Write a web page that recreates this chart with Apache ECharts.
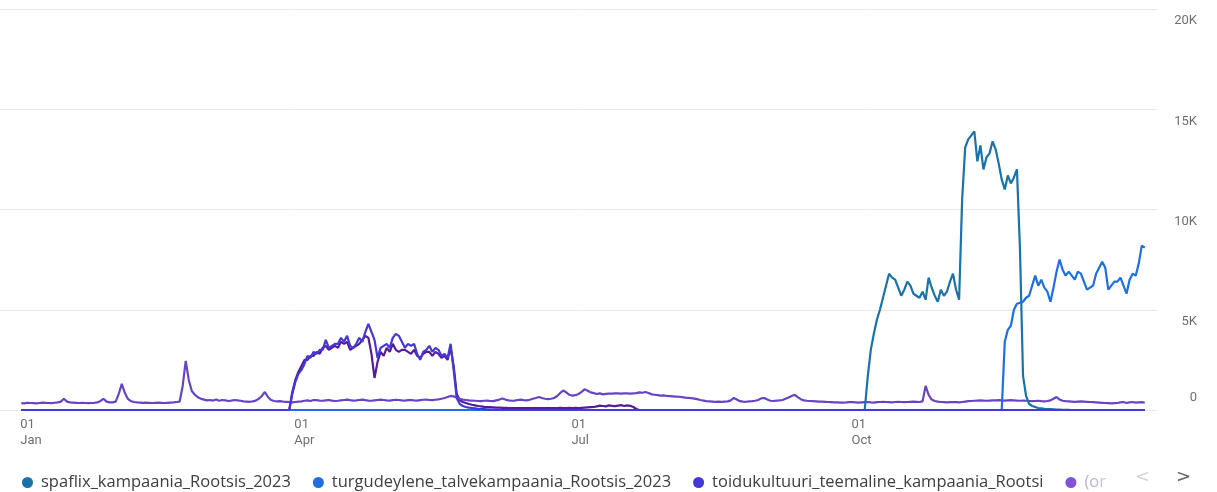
<!DOCTYPE html>
<html><head><meta charset="utf-8">
<script src="https://cdn.jsdelivr.net/npm/echarts@6/dist/echarts.min.js"></script>
<style>html,body{margin:0;padding:0;background:#fff}#c{width:1217px;height:492px}</style>
</head><body><div id="c"></div>
<script>
// ---- data ----
const START_DATE = '2023-01-01';
const DAY_COUNT = 370;
const QUARTER_TICKS = ['2023-01-01', '2023-04-01', '2023-07-01', '2023-10-01'];
const MONTHS = ['Jan','Feb','Mar','Apr','May','Jun','Jul','Aug','Sep','Oct','Nov','Dec'];
const Y_TICKS = [0, 5000, 10000, 15000, 20000];

const SERIES_NAMES = ['spaflix_kampaania_Rootsis_2023', 'turgudeylene_talvekampaania_Rootsis_2023',
  'toidukultuuri_teemaline_kampaania_Rootsi', '(organic)', '(direct)'];

// spaflix: active segment starting at day 277 (zero elsewhere)
const spaflixStart = 277;
const spaflixValues = [0,1660,3000,3800,4500,5000,5600,6200,6800,6600,
  6500,6100,5700,6000,6400,6200,5800,5700,5600,5900,
  5500,6600,6100,5700,5400,6000,5700,5900,6400,6800,
  6000,5500,10500,13100,13500,13700,13900,12400,13200,12000,
  12600,12800,13400,13000,12300,11500,11000,11700,11300,11600,
  12000,8000,1700,700,300,200,
  150,100,80,60,50,40,30,20,20,10,10,10,0];

// turgudeylene: active segment starting at day 322
const turgStart = 322;
const turgValues = [0,3400,4000,4200,5000,5300,5350,5400,5600,5700,
  6200,6700,6200,6500,6100,5900,5400,6100,6900,7500,
  7000,6700,6900,6700,6500,6900,6800,6400,6000,6100,
  6200,6800,7100,7400,7100,6000,6200,6400,6400,6600,
  6200,5800,6500,6800,6700,7300,8200,8100];

// toidukultuuri: active segment starting at day 88
const toiduStart = 88;
const toiduValues = [0,800,1400,1800,2000,2300,2700,2600,2900,2800,
  3000,3000,3500,3100,3200,3300,3300,3600,3400,3700,
  3200,3100,3300,3600,3400,3900,4300,3900,3500,2600,
  3100,3200,3300,3100,3600,3800,3700,3400,3100,3300,
  3200,3300,2800,2500,2900,3000,3200,2900,3100,3000,
  2700,2800,2600,3300,2000,600,300,200,
  150,120,100,80,60,50,40,30,20,20,10,10,0];

// (direct): active segment starting at day 88
const directStart = 88;
const directValues = [0,900,1500,1900,2200,2500,2500,2700,2700,2900,
  2800,3100,3200,3000,3100,3200,3100,3400,3300,3400,
  3000,3100,3200,3300,3500,3700,3600,2800,1600,2400,
  2900,2700,3100,2900,3300,3000,2900,3000,3000,2900,
  2800,3000,2700,2600,2800,2900,2900,2700,2900,2800,
  2600,2700,2500,3100,2200,800,500,400,
  350,300,260,230,200,180,160,150,140,130,
  120,120,110,110,100,100,100,90,90,90,
  90,100,90,90,100,90,90,100,90,100,
  100,110,100,100,110,100,110,100,110,120,
  130,140,150,180,220,200,180,230,210,190,
  220,240,200,230,210,150,50,0];

// (organic): full year, day 0..369
const organicValues = [
  340,330,360,350,340,330,350,370,360,350,
  340,360,380,420,560,420,380,370,360,350,
  360,350,340,350,360,380,450,560,420,380,
  380,420,800,1300,850,560,440,400,380,370,
  360,370,360,350,360,370,360,350,360,370,
  380,400,420,1200,2450,1500,950,760,640,560,
  520,480,500,470,520,460,500,480,450,470,
  500,480,460,430,420,410,430,470,560,700,
  900,650,500,450,430,440,420,410,400,380,
  400,420,430,460,480,450,500,490,470,460,
  480,500,470,450,460,480,500,520,490,470,
  480,500,520,490,470,460,480,500,520,500,
  480,470,490,510,500,480,470,490,500,480,
  470,490,510,520,500,490,510,530,560,600,
  650,700,680,620,560,520,500,480,470,460,
  450,440,460,470,450,440,480,520,570,520,
  480,460,470,500,520,490,480,510,560,600,
  650,600,560,540,560,600,700,850,970,880,
  760,720,740,800,900,1030,960,880,840,800,
  830,780,800,820,820,830,830,820,830,830,
  820,830,840,880,860,900,850,780,760,740,
  720,730,700,690,680,670,660,640,620,600,
  590,570,540,500,470,440,430,420,410,420,
  410,420,430,480,600,520,440,420,410,430,
  440,460,500,580,600,520,460,450,470,480,
  500,560,620,700,760,640,540,480,460,450,
  440,430,420,420,410,400,390,380,380,370,
  370,380,400,390,380,370,380,390,400,380,
  370,390,400,410,400,390,380,400,410,400,
  390,400,410,420,410,400,430,1200,750,520,
  450,420,400,390,380,390,400,390,380,400,
  420,440,450,460,470,480,470,460,470,480,
  480,490,480,470,480,490,480,470,460,470,
  460,450,440,450,460,440,430,450,480,560,
  650,520,460,440,430,420,410,420,430,420,
  410,400,390,380,370,360,350,340,330,340,
  350,380,400,350,380,400,370,380,390,360];

// ---- build ----
const PAD_BEFORE = 7, PAD_AFTER = 4;
const dates = [];
const t0 = Date.parse(START_DATE + 'T00:00:00Z');
for (let i = 0; i < DAY_COUNT; i++) dates.push(new Date(t0 + i * 86400000).toISOString().slice(0, 10));
const cats = [];
for (let i = 0; i < PAD_BEFORE; i++) cats.push('pre' + i);
dates.forEach(d => cats.push(d));
for (let i = 0; i < PAD_AFTER; i++) cats.push('post' + i);

function fromSegment(start, vals) {
  const arr = new Array(DAY_COUNT).fill(0);
  vals.forEach((v, i) => { if (start + i < DAY_COUNT) arr[start + i] = v; });
  return arr;
}
function padded(arr) {
  return new Array(PAD_BEFORE).fill(null).concat(arr, new Array(PAD_AFTER).fill(null));
}
const full = {
  spaflix: fromSegment(spaflixStart, spaflixValues),
  turg: fromSegment(turgStart, turgValues),
  toidu: fromSegment(toiduStart, toiduValues),
  organic: organicValues.slice(0, DAY_COUNT),
  direct: fromSegment(directStart, directValues)
};

const COLORS = { spaflix: '#1a72aa', turg: '#1e6fe0', toidu: '#4338d8', organic: '#6844c4', direct: '#541c98' };

function line(name, key) {
  return { name, type: 'line', data: padded(full[key]), showSymbol: false, symbol: 'none',
    lineStyle: { width: 2.2, color: COLORS[key] }, itemStyle: { color: COLORS[key] },
    emphasis: { disabled: true }, connectNulls: false };
}

const chart = echarts.init(document.getElementById('c'), null, { renderer: 'canvas' });
chart.setOption({
  animation: false,
  backgroundColor: '#fff',
  textStyle: { fontFamily: 'Roboto' },
  grid: { left: -1, right: 60, top: 9, bottom: 82, containLabel: false },
  xAxis: {
    type: 'category', boundaryGap: false, data: cats,
    axisLine: { show: false }, axisTick: { show: false }, splitLine: { show: false },
    axisLabel: {
      interval: (idx, val) => QUARTER_TICKS.indexOf(val) >= 0,
      formatter: val => { const m = parseInt(val.slice(5, 7), 10) - 1; return val.slice(8, 10) + '\n' + MONTHS[m]; },
      align: 'left', color: '#6f6f6f', fontSize: 13, lineHeight: 16, margin: 7, fontFamily: 'Roboto',
      padding: [0, 0, 0, -1]
    }
  },
  yAxis: {
    type: 'value', position: 'right', min: Y_TICKS[0], max: Y_TICKS[Y_TICKS.length - 1], interval: 5000,
    axisLine: { show: false }, axisTick: { show: false },
    splitLine: { lineStyle: { color: '#e9e9e9', width: 1 } },
    axisLabel: {
      margin: 40, align: 'right', color: '#6f6f6f', fontSize: 13, fontFamily: 'Roboto',
      formatter: v => v === 0 ? '{b|0}' : '{t|' + (v / 1000) + 'K}',
      rich: {
        t: { padding: [24, 0, 0, 0], color: '#6f6f6f', fontSize: 13, fontFamily: 'Roboto' },
        b: { padding: [0, 0, 24, 0], color: '#6f6f6f', fontSize: 13, fontFamily: 'Roboto' }
      }
    }
  },
  legend: {
    type: 'plain', left: 17, top: 469, itemWidth: 11, itemHeight: 11, itemGap: 22, icon: 'circle',
    selectedMode: false,
    textStyle: { color: '#3c4043', fontSize: 16.5, fontFamily: 'Open Sans', padding: [0, 0, 0, 3] },
    data: [
      { name: SERIES_NAMES[0] },
      { name: SERIES_NAMES[1] },
      { name: SERIES_NAMES[2] },
      { name: SERIES_NAMES[3], itemStyle: { color: '#8053d9' },
        textStyle: { color: '#b9b4d0', width: 26, overflow: 'truncate', ellipsis: '' } }
    ]
  },
  graphic: [
    { type: 'rect', left: 1094, top: 466, shape: { width: 40, height: 24 }, z: 100,
      style: { fill: new echarts.graphic.LinearGradient(0, 0, 1, 0, [
        { offset: 0, color: 'rgba(255,255,255,0)' }, { offset: 1, color: 'rgba(255,255,255,1)' }]) } },
    { type: 'text', left: 1135, top: 468, z: 100, style: { text: '<', fill: '#d6d6d6', fontSize: 18, fontFamily: 'DejaVu Sans' } },
    { type: 'text', left: 1176, top: 468, z: 100, style: { text: '>', fill: '#5f6368', fontSize: 18, fontFamily: 'DejaVu Sans' } }
  ],
  series: [
    line(SERIES_NAMES[4], 'direct'),
    line(SERIES_NAMES[3], 'organic'),
    line(SERIES_NAMES[0], 'spaflix'),
    line(SERIES_NAMES[1], 'turg'),
    line(SERIES_NAMES[2], 'toidu')
  ]
});
</script></body></html>
